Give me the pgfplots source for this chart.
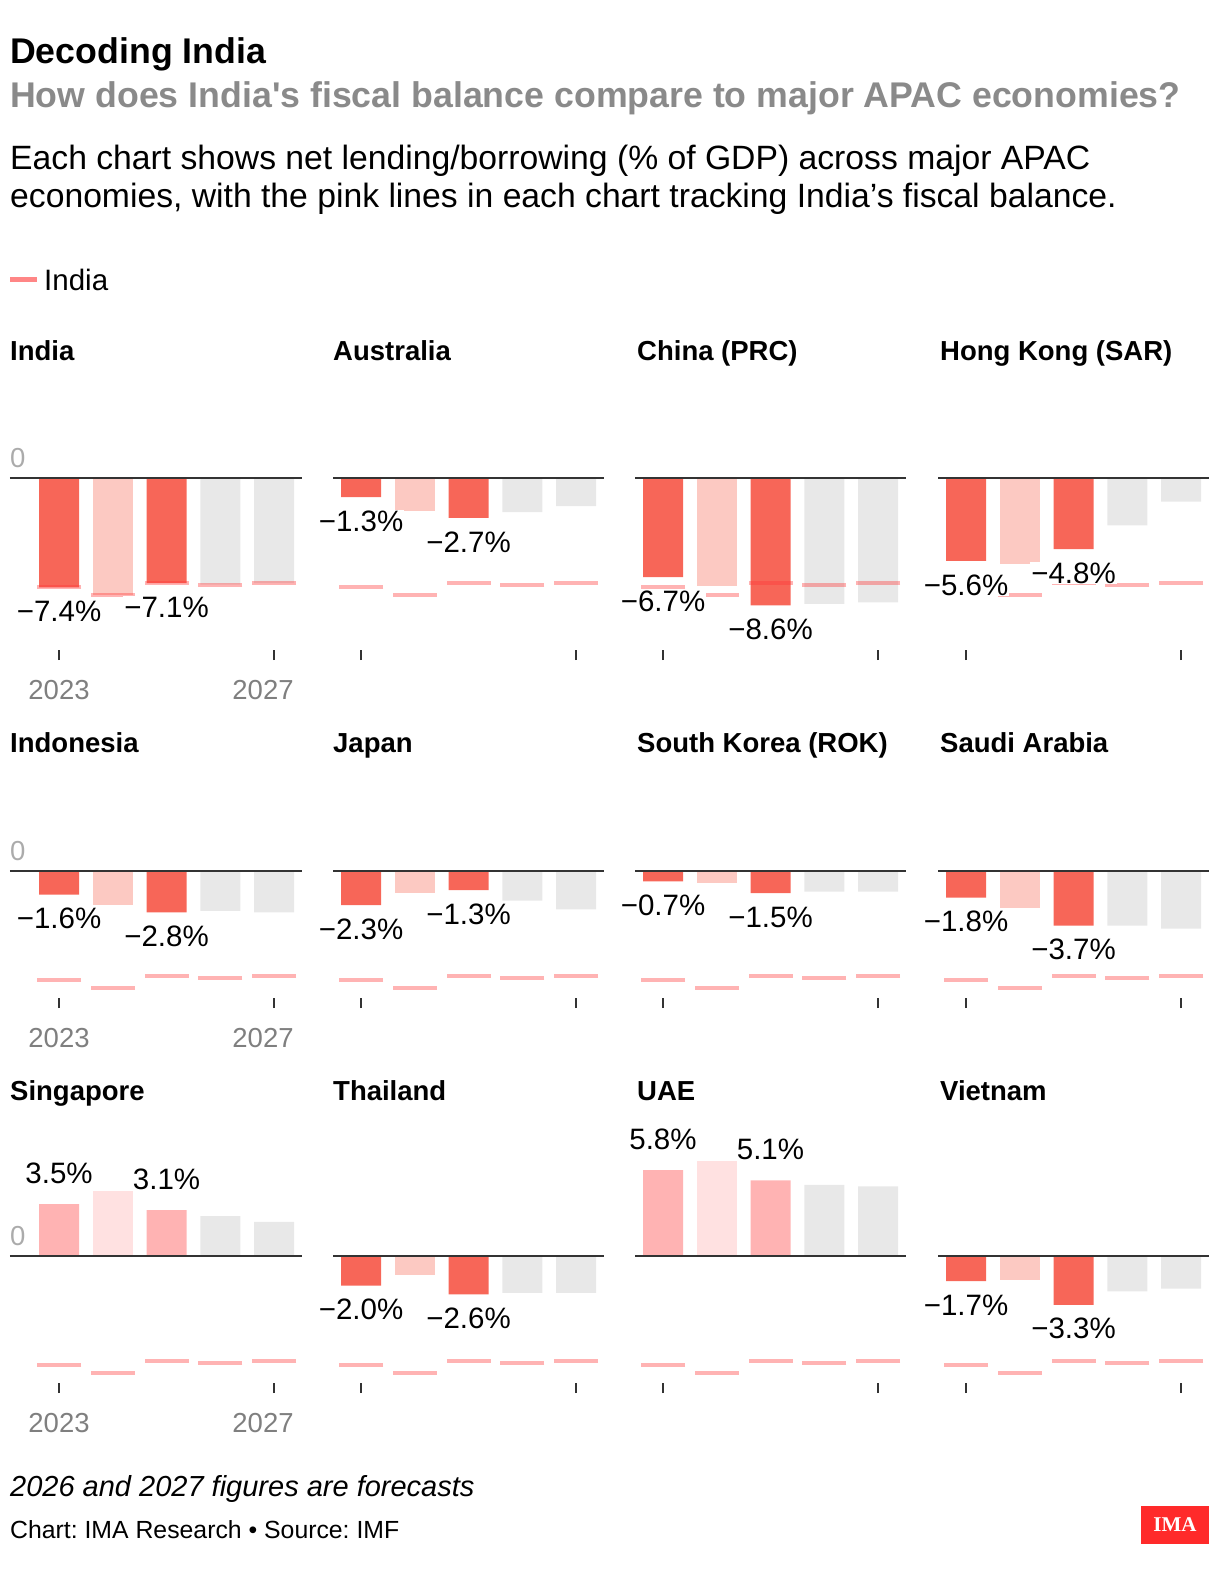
\documentclass[border=0pt]{standalone}
\usepackage{pgfplots}
\pgfplotsset{compat=1.18}
\usepackage{pgfplotstable}
\usepackage{fontspec}
\setmainfont{Liberation Sans}
\newfontfamily\logofont{Liberation Serif}
\frenchspacing

\definecolor{barRed}{HTML}{F76658}
\definecolor{barPale}{HTML}{FCC9C2}
\definecolor{barGray}{HTML}{E8E8E8}
\definecolor{posRed}{HTML}{FFB3B3}
\definecolor{posPale}{HTML}{FFE1E1}
\definecolor{indiaLine}{HTML}{FF3636}
\definecolor{zeroLine}{HTML}{333333}
\definecolor{subGray}{HTML}{8A8A8A}
\definecolor{yearGray}{HTML}{7F7F7F}
\definecolor{zeroGray}{HTML}{ABABAB}
\definecolor{imaRed}{HTML}{FF2A2A}

% India's net lending/borrowing (% of GDP), drawn in every panel
\pgfplotstableread{
year value
2023 -7.4
2024 -7.9
2025 -7.1
2026 -7.2
2027 -7.1
}\indiatable

\newcommand{\fs}[1]{\fontsize{#1}{1.2\dimexpr#1\relax}\selectfont}

\pgfplotsset{
  panel/.style={
    x=53.75pt, y=14.8pt,
    xmax=2027.521,
    anchor=south west,
    clip=false,
    axis on top,
    axis x line=bottom, axis y line=left,
    axis line style={draw=none,-},
    xtick={2023,2027},
    ytick=\empty,
    major tick length=10pt,
    tick align=inside,
    x tick style={draw=zeroLine, line width=1.5pt},
    xticklabel style={anchor=center, yshift=-30pt, font=\fs{27.5pt}, text=yearGray},
    extra y ticks={0},
    extra y tick style={
      grid=major,
      major grid style={draw=zeroLine, line width=2pt},
      y tick style={draw=none},
      yticklabel style={anchor=south west, inner sep=0pt, yshift=10pt, font=\fs{27.5pt}, text=zeroGray},
    },
  },
  firstcol/.style={xmin=2022.088, xticklabels={2023,\hspace*{-22pt}2027}, extra y tick labels={0}},
  othercol/.style={xmin=2022.479, xticklabels={,}, extra y tick labels={}},
  row1/.style={ymin=-12.3, ymax=3},
  row2/.style={ymin=-9.26, ymax=3},
  row3/.style={ymin=-9.26, ymax=7},
  colbar/.style={ybar, bar width=40pt, bar shift=0pt, draw=none, fill=#1},
  indiaseg/.style={only marks, mark=-, mark size=22pt,
    mark options={line width=4pt, draw=indiaLine, draw opacity=0.38}},
  vlabel/.style={draw=none, nodes near coords, point meta=explicit symbolic,
    every node near coord/.append style={anchor=center, yshift=#1, fill=white,
      inner sep=1pt, font=\fs{29.5pt}, text=black}},
}
\tikzset{ptitle/.style={anchor=base west, inner sep=0pt, font=\fs{27.5pt}\bfseries}}

\begin{document}
\begin{tikzpicture}
\path[use as bounding box] (0pt,0pt) rectangle (1220pt,-1580pt);

% Header
\node[anchor=base west, inner sep=0pt, font=\fs{35.7pt}\bfseries] at (10pt,-63.5pt) {Decoding India};
\node[anchor=base west, inner sep=0pt, font=\fs{35.7pt}\bfseries, text=subGray] at (10pt,-107pt) {How does India\textquotesingle s fiscal balance compare to major APAC economies?};
\node[anchor=base west, inner sep=0pt, font=\fs{33.7pt}] at (10pt,-169pt) {Each chart shows net lending/borrowing (\% of GDP) across major APAC};
\node[anchor=base west, inner sep=0pt, font=\fs{33.7pt}] at (10pt,-207.5pt) {economies, with the pink lines in each chart tracking India’s fiscal balance.};

% Legend
\draw[indiaLine, draw opacity=0.6, line width=5pt] (10pt,-279pt) -- (37pt,-279pt);
\node[anchor=base west, inner sep=0pt, font=\fs{29.5pt}] at (44pt,-290pt) {India};

% ---------- Row 1 ----------
\begin{axis}[panel, firstcol, row1, at={(10pt,-660pt)}]
\addplot[colbar=barRed] coordinates {(2023,-7.4) (2025,-7.1)};
\addplot[colbar=barPale] coordinates {(2024,-7.9)};
\addplot[colbar=barGray] coordinates {(2026,-7.2) (2027,-7.1)};
\addplot[indiaseg] table[x=year, y=value] {\indiatable};
\addplot[vlabel=-24pt] coordinates {(2023,-7.4) [−7.4\%] (2025,-7.1) [−7.1\%]};
\end{axis}
\node[ptitle] at (10pt,-360pt) {India};

\begin{axis}[panel, othercol, row1, at={(333pt,-660pt)}]
\addplot[colbar=barRed] coordinates {(2023,-1.3) (2025,-2.7)};
\addplot[colbar=barPale] coordinates {(2024,-2.2)};
\addplot[colbar=barGray] coordinates {(2026,-2.3) (2027,-1.9)};
\addplot[indiaseg] table[x=year, y=value] {\indiatable};
\addplot[vlabel=-24pt] coordinates {(2023,-1.3) [−1.3\%] (2025,-2.7) [−2.7\%]};
\end{axis}
\node[ptitle] at (333pt,-360pt) {Australia};

\begin{axis}[panel, othercol, row1, at={(635pt,-660pt)}]
\addplot[colbar=barRed] coordinates {(2023,-6.7) (2025,-8.6)};
\addplot[colbar=barPale] coordinates {(2024,-7.3)};
\addplot[colbar=barGray] coordinates {(2026,-8.5) (2027,-8.4)};
\addplot[indiaseg] table[x=year, y=value] {\indiatable};
\addplot[vlabel=-24pt] coordinates {(2023,-6.7) [−6.7\%] (2025,-8.6) [−8.6\%]};
\end{axis}
\node[ptitle] at (637pt,-360pt) {China (PRC)};

\begin{axis}[panel, othercol, row1, at={(938pt,-660pt)}]
\addplot[colbar=barRed] coordinates {(2023,-5.6) (2025,-4.8)};
\addplot[colbar=barPale] coordinates {(2024,-5.8)};
\addplot[colbar=barGray] coordinates {(2026,-3.2) (2027,-1.6)};
\addplot[indiaseg] table[x=year, y=value] {\indiatable};
\addplot[vlabel=-24pt] coordinates {(2023,-5.6) [−5.6\%] (2025,-4.8) [−4.8\%]};
\end{axis}
\node[ptitle] at (940pt,-360pt) {Hong Kong (SAR)};

% ---------- Row 2 ----------
\begin{axis}[panel, firstcol, row2, at={(10pt,-1008pt)}]
\addplot[colbar=barRed] coordinates {(2023,-1.6) (2025,-2.8)};
\addplot[colbar=barPale] coordinates {(2024,-2.3)};
\addplot[colbar=barGray] coordinates {(2026,-2.7) (2027,-2.8)};
\addplot[indiaseg] table[x=year, y=value] {\indiatable};
\addplot[vlabel=-24pt] coordinates {(2023,-1.6) [−1.6\%] (2025,-2.8) [−2.8\%]};
\end{axis}
\node[ptitle] at (10pt,-752pt) {Indonesia};

\begin{axis}[panel, othercol, row2, at={(333pt,-1008pt)}]
\addplot[colbar=barRed] coordinates {(2023,-2.3) (2025,-1.3)};
\addplot[colbar=barPale] coordinates {(2024,-1.5)};
\addplot[colbar=barGray] coordinates {(2026,-2.0) (2027,-2.6)};
\addplot[indiaseg] table[x=year, y=value] {\indiatable};
\addplot[vlabel=-24pt] coordinates {(2023,-2.3) [−2.3\%] (2025,-1.3) [−1.3\%]};
\end{axis}
\node[ptitle] at (333pt,-752pt) {Japan};

\begin{axis}[panel, othercol, row2, at={(635pt,-1008pt)}]
\addplot[colbar=barRed] coordinates {(2023,-0.7) (2025,-1.5)};
\addplot[colbar=barPale] coordinates {(2024,-0.8)};
\addplot[colbar=barGray] coordinates {(2026,-1.4) (2027,-1.4)};
\addplot[indiaseg] table[x=year, y=value] {\indiatable};
\addplot[vlabel=-24pt] coordinates {(2023,-0.7) [−0.7\%] (2025,-1.5) [−1.5\%]};
\end{axis}
\node[ptitle] at (637pt,-752pt) {South Korea (ROK)};

\begin{axis}[panel, othercol, row2, at={(938pt,-1008pt)}]
\addplot[colbar=barRed] coordinates {(2023,-1.8) (2025,-3.7)};
\addplot[colbar=barPale] coordinates {(2024,-2.5)};
\addplot[colbar=barGray] coordinates {(2026,-3.7) (2027,-3.9)};
\addplot[indiaseg] table[x=year, y=value] {\indiatable};
\addplot[vlabel=-24pt] coordinates {(2023,-1.8) [−1.8\%] (2025,-3.7) [−3.7\%]};
\end{axis}
\node[ptitle] at (940pt,-752pt) {Saudi Arabia};

% ---------- Row 3 ----------
\begin{axis}[panel, firstcol, row3, at={(10pt,-1393pt)}]
\addplot[colbar=posRed] coordinates {(2023,3.5) (2025,3.1)};
\addplot[colbar=posPale] coordinates {(2024,4.4)};
\addplot[colbar=barGray] coordinates {(2026,2.7) (2027,2.3)};
\addplot[indiaseg] table[x=year, y=value] {\indiatable};
\addplot[vlabel=31pt] coordinates {(2023,3.5) [3.5\%] (2025,3.1) [3.1\%]};
\end{axis}
\node[ptitle] at (10pt,-1100.5pt) {Singapore};

\begin{axis}[panel, othercol, row3, at={(333pt,-1393pt)}]
\addplot[colbar=barRed] coordinates {(2023,-2.0) (2025,-2.6)};
\addplot[colbar=barPale] coordinates {(2024,-1.3)};
\addplot[colbar=barGray] coordinates {(2026,-2.5) (2027,-2.5)};
\addplot[indiaseg] table[x=year, y=value] {\indiatable};
\addplot[vlabel=-24pt] coordinates {(2023,-2.0) [−2.0\%] (2025,-2.6) [−2.6\%]};
\end{axis}
\node[ptitle] at (333pt,-1100.5pt) {Thailand};

\begin{axis}[panel, othercol, row3, at={(635pt,-1393pt)}]
\addplot[colbar=posRed] coordinates {(2023,5.8) (2025,5.1)};
\addplot[colbar=posPale] coordinates {(2024,6.4)};
\addplot[colbar=barGray] coordinates {(2026,4.8) (2027,4.7)};
\addplot[indiaseg] table[x=year, y=value] {\indiatable};
\addplot[vlabel=31pt] coordinates {(2023,5.8) [5.8\%] (2025,5.1) [5.1\%]};
\end{axis}
\node[ptitle] at (637pt,-1100.5pt) {UAE};

\begin{axis}[panel, othercol, row3, at={(938pt,-1393pt)}]
\addplot[colbar=barRed] coordinates {(2023,-1.7) (2025,-3.3)};
\addplot[colbar=barPale] coordinates {(2024,-1.6)};
\addplot[colbar=barGray] coordinates {(2026,-2.4) (2027,-2.2)};
\addplot[indiaseg] table[x=year, y=value] {\indiatable};
\addplot[vlabel=-24pt] coordinates {(2023,-1.7) [−1.7\%] (2025,-3.3) [−3.3\%]};
\end{axis}
\node[ptitle] at (940pt,-1100.5pt) {Vietnam};

% Footer
\node[anchor=base west, inner sep=0pt, font=\fs{29pt}\itshape] at (10pt,-1496pt) {2026 and 2027 figures are forecasts};
\node[anchor=base west, inner sep=0pt, font=\fs{24.8pt}] at (10pt,-1538pt) {Chart: IMA Research • Source: IMF};
\fill[imaRed] (1141pt,-1506pt) rectangle (1209pt,-1544pt);
\node[text=white, font=\logofont\fs{21pt}\bfseries] at (1175pt,-1525pt) {IMA};
\end{tikzpicture}
\end{document}
